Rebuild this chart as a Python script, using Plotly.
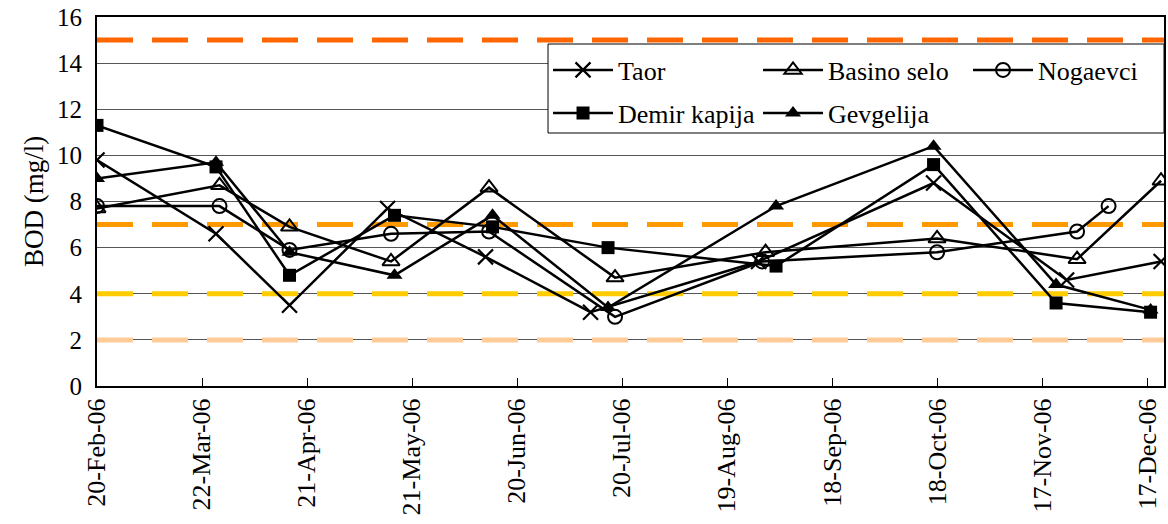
import plotly.graph_objects as go

# Sampling dates and BOD readings (mg/l) for each station
taor_dates = ["2006-02-20", "2006-03-26", "2006-04-16", "2006-05-14", "2006-06-11",
              "2006-07-11", "2006-08-28", "2006-10-17", "2006-11-24", "2006-12-21"]
taor_bod = [9.8, 6.6, 3.5, 7.7, 5.6, 3.2, 5.4, 8.8, 4.6, 5.4]

basino_dates = ["2006-02-20", "2006-03-27", "2006-04-16", "2006-05-15", "2006-06-12",
                "2006-07-18", "2006-08-30", "2006-10-18", "2006-11-27", "2006-12-21"]
basino_bod = [7.7, 8.7, 6.9, 5.4, 8.6, 4.7, 5.8, 6.4, 5.5, 8.9]

nogaevci_dates = ["2006-02-20", "2006-03-27", "2006-04-16", "2006-05-15", "2006-06-12",
                  "2006-07-18", "2006-08-29", "2006-10-18", "2006-11-27", "2006-12-06"]
nogaevci_bod = [7.8, 7.8, 5.9, 6.6, 6.7, 3.0, 5.4, 5.8, 6.7, 7.8]

demir_dates = ["2006-02-20", "2006-03-26", "2006-04-16", "2006-05-16", "2006-06-13",
               "2006-07-16", "2006-09-02", "2006-10-17", "2006-11-21", "2006-12-18"]
demir_bod = [11.3, 9.5, 4.8, 7.4, 6.9, 6.0, 5.2, 9.6, 3.6, 3.2]

gevgelija_dates = ["2006-02-20", "2006-03-26", "2006-04-16", "2006-05-16", "2006-06-13",
                   "2006-07-16", "2006-09-02", "2006-10-17", "2006-11-21", "2006-12-18"]
gevgelija_bod = [9.0, 9.7, 5.8, 4.8, 7.4, 3.4, 7.8, 10.4, 4.4, 3.3]

# Water-quality class limits drawn as dashed reference lines
limit_values = [15, 7, 4, 2]
limit_colors = ["#FF6600", "#FF9900", "#FFCC00", "#FFCC99"]

x_start = "2006-02-20"
x_end = "2006-12-21 20:00"

FONT = "Liberation Serif"
DAY_MS = 86400000

fig = go.Figure()

for val, col in zip(limit_values, limit_colors):
    fig.add_trace(go.Scatter(
        x=[x_start, x_end], y=[val, val], mode="lines",
        line=dict(color=col, width=5, dash="36px,19px"),
        showlegend=False, hoverinfo="skip",
    ))

# name, dates, values, marker style, legend row
series = [
    ("Taor", taor_dates, taor_bod,
     dict(symbol="x-thin-open", size=15, line=dict(width=2.2, color="black"), color="black"), "legend"),
    ("Basino selo", basino_dates, basino_bod,
     dict(symbol="triangle-up-open", size=15, line=dict(width=2, color="black"), color="black"), "legend"),
    ("Nogaevci", nogaevci_dates, nogaevci_bod,
     dict(symbol="circle-open", size=14, line=dict(width=2, color="black"), color="black"), "legend"),
    ("Demir kapija", demir_dates, demir_bod,
     dict(symbol="square", size=13, color="black", line=dict(width=0)), "legend2"),
    ("Gevgelija", gevgelija_dates, gevgelija_bod,
     dict(symbol="triangle-up", size=14, color="black", line=dict(width=0)), "legend2"),
]

for name, xs, ys, marker, leg in series:
    fig.add_trace(go.Scatter(
        x=xs, y=ys, name=name, mode="lines+markers",
        line=dict(color="black", width=2.5),
        marker=marker, legend=leg,
    ))

legend_style = dict(
    orientation="h",
    xanchor="left", yanchor="middle",
    entrywidth=135, entrywidthmode="pixels",
    itemwidth=60,
    bgcolor="rgba(0,0,0,0)", borderwidth=0,
    font=dict(family=FONT, size=26, color="black"),
    traceorder="normal",
)

# legend frame (paper coordinates)
box_x0, box_x1 = 0.4227, 1.0
box_y0, box_y1 = 0.6856, 0.9268

fig.update_layout(
    width=1168, height=524,
    margin=dict(l=97, r=4, t=17, b=138, autoexpand=False),
    paper_bgcolor="white", plot_bgcolor="white",
    font=dict(family=FONT, size=25, color="black"),
    showlegend=True,
    legend=dict(x=box_x0, y=0.8564, **legend_style),
    legend2=dict(x=box_x0, y=0.7398, **legend_style),
    shapes=[dict(
        type="rect", xref="paper", yref="paper",
        x0=box_x0, x1=box_x1, y0=box_y0, y1=box_y1,
        line=dict(color="black", width=1), fillcolor="white", layer="above",
    )],
)

fig.update_xaxes(
    type="date",
    range=[x_start, x_end],
    tick0=x_start, dtick=30 * DAY_MS,
    tickformat="%-d-%b-%y", tickangle=-90,
    ticks="inside", ticklen=8, tickcolor="black", tickwidth=1,
    showgrid=False, zeroline=False,
    showline=True, linecolor="black", linewidth=2, mirror=True,
    tickfont=dict(family=FONT, size=26, color="black"),
)

fig.update_yaxes(
    range=[0, 16], dtick=2,
    showgrid=True, gridcolor="#555555", gridwidth=1,
    zeroline=False,
    showline=True, linecolor="black", linewidth=2, mirror=True,
    ticks="", ticklabelstandoff=8,
    tickfont=dict(family=FONT, size=25, color="black"),
    title=dict(text="BOD (mg/l)", font=dict(family=FONT, size=27, color="black"), standoff=6),
)

fig.write_html("out.html")
